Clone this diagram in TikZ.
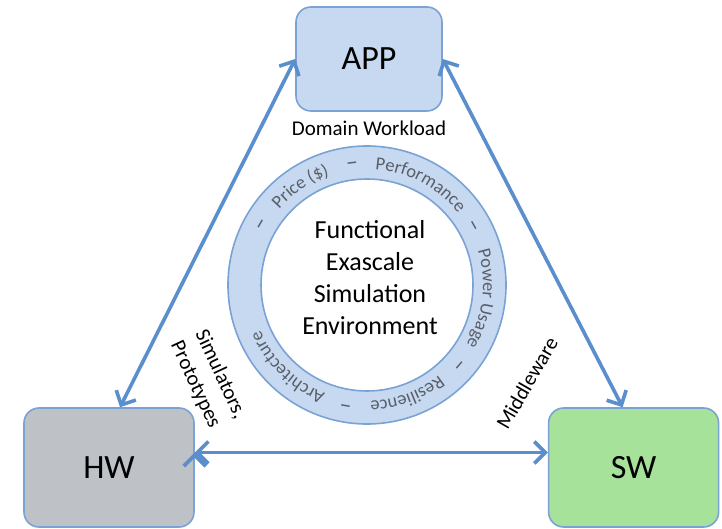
\documentclass[tikz,border=0pt]{standalone}
\usepackage{fontspec}
\setmainfont{Carlito}
\usetikzlibrary{arrows.meta, positioning, decorations.text}

\definecolor{linkblue}{RGB}{91,142,204}
\definecolor{edgeblue}{RGB}{122,162,212}
\definecolor{appfill}{RGB}{198,217,241}
\definecolor{hwfill}{RGB}{190,194,199}
\definecolor{swfill}{RGB}{166,226,154}
\definecolor{ringgray}{RGB}{90,94,104}

\newcommand{\ringfont}{\fontsize{9.2}{10}\selectfont}

\begin{document}
\begin{tikzpicture}[x=0.5pt, y=-0.5pt]
	\tikzset{box/.style={draw=edgeblue, thick, rounded corners=7.5pt, font=\fontsize{17}{20}\selectfont},
		link/.style={<->, >={Straight Barb[length=5.5pt, width=11pt]}, draw=linkblue, line width=1.8pt},
		note/.style={font=\fontsize{10.5}{13.5}\selectfont},
		ringline/.style={draw=edgeblue, thick},
		ringword/.style={decorate, decoration={text along path, text align=center, text color=ringgray, text={|\ringfont|#1}}}}

	\useasboundingbox (0,0) rectangle (722,529);

	\node[box, fill=appfill, minimum width=73pt, minimum height=52pt] (app) at (369,59) {APP};
	\node[box, fill=hwfill, minimum width=85pt, minimum height=59.5pt] (hw) at (109,467.5) {HW};
	\node[box, fill=swfill, minimum width=85pt, minimum height=59.5pt, right=176.5pt of hw] (sw) {SW};

	\node[note, below=1pt of app] (workload) {Domain Workload};
	\node[note, rotate=-65, align=left] (tools) at (208,380) {Simulators,\\Prototypes};
	\node[note, rotate=60] (middleware) at (527,383) {Middleware};

	% ring of goals
	\coordinate (ring) at (367,285);
	\draw[ringline, fill=appfill] (ring) circle[radius=69.5pt];
	\draw[ringline, fill=white] (ring) circle[radius=53pt];
	\path[ringword={Price ({\$})}] (ring) ++(164:58pt) arc[start angle=164, end angle=84, radius=58pt];
	\path[ringword=Performance] (ring) ++(102:58pt) arc[start angle=102, end angle=22, radius=58pt];
	\path[ringword={Power Usage}] (ring) ++(33:58pt) arc[start angle=33, end angle=-47, radius=58pt];
	\path[ringword=Resilience] (ring) ++(-30:58pt) arc[start angle=-30, end angle=-110, radius=58pt];
	\path[ringword=Architecture] (ring) ++(-94:58pt) arc[start angle=-94, end angle=-174, radius=58pt];
	\foreach \ang [count=\i] in {150,97,29,-41,-100}
		\node[text=ringgray, font=\fontsize{12}{12}\selectfont, rotate=\ang-90] (dash\i) at ([shift={(\ang:60pt)}]ring) {–};

	\node[align=center, font=\fontsize{13}{16}\selectfont] (fese) at (370,278) {Functional\\Exascale\\Simulation\\Environment};

	\draw[link]
		(app.west) edge ([xshift=5.5pt]hw.north)
		(app.east) edge ([xshift=-5.5pt]sw.north)
		([yshift=7.5pt]hw.east) edge ([yshift=7.5pt]sw.west);
\end{tikzpicture}
\end{document}
